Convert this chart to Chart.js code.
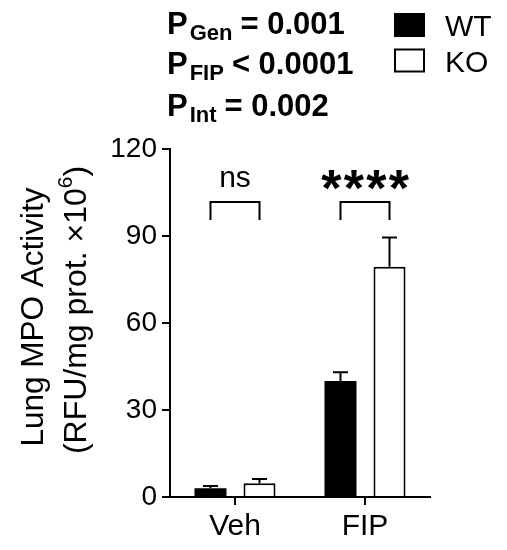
<!DOCTYPE html>
<html lang="en">
<head>
<meta charset="UTF-8">
<title>Lung MPO Activity</title>
<style>
  html, body { margin: 0; padding: 0; background: #fff; }
  #wrap { width: 507px; height: 550px; }
</style>
</head>
<body>
<div id="wrap"><canvas id="myChart" width="507" height="550"></canvas></div>

<script src="https://cdn.jsdelivr.net/npm/chart.js"></script>
<script>
// data
const categories = ['Veh', 'FIP'];
const groupNames = ['WT', 'KO'];
const wtValues = [3.0, 40.0];
const wtErrors = [0.8, 3.0];
const koValues = [4.7, 79.4];
const koErrors = [1.5, 10.1];
const yTicks = [0, 30, 60, 90, 120];
const sigLabels = ['ns', '****'];
const pStats = [
  ['Gen', '= 0.001'],
  ['FIP', '< 0.0001'],
  ['Int', '= 0.002']
];

const FONT = "'Liberation Sans', Arial, Helvetica, sans-serif";
const errors = [wtErrors, koErrors];

// error bars (upward only, with caps)
const errorBars = {
  id: 'errorBars',
  afterDatasetsDraw(chart) {
    const ctx = chart.ctx;
    const y = chart.scales.y;
    ctx.save();
    ctx.strokeStyle = '#000';
    ctx.lineWidth = 2;
    chart.data.datasets.forEach((ds, di) => {
      const meta = chart.getDatasetMeta(di);
      meta.data.forEach((bar, i) => {
        const top = y.getPixelForValue(ds.data[i] + errors[di][i]);
        const base = y.getPixelForValue(ds.data[i]);
        ctx.beginPath();
        ctx.moveTo(bar.x, base);
        ctx.lineTo(bar.x, top);
        ctx.moveTo(bar.x - 7.5, top);
        ctx.lineTo(bar.x + 7.5, top);
        ctx.stroke();
      });
    });
    ctx.restore();
  }
};

// brackets, significance labels, p-values, legend, y title
const annotations = {
  id: 'annotations',
  afterDraw(chart) {
    const ctx = chart.ctx;
    const y = chart.scales.y;
    const m0 = chart.getDatasetMeta(0);
    const m1 = chart.getDatasetMeta(1);
    ctx.save();
    ctx.fillStyle = '#000';
    ctx.strokeStyle = '#000';
    ctx.lineWidth = 2;

    categories.forEach((c, i) => {
      const x1 = m0.data[i].x, x2 = m1.data[i].x;
      const yTop = y.getPixelForValue(101.7);
      const yBot = y.getPixelForValue(95.5);
      ctx.beginPath();
      ctx.moveTo(x1, yBot);
      ctx.lineTo(x1, yTop);
      ctx.lineTo(x2, yTop);
      ctx.lineTo(x2, yBot);
      ctx.stroke();

      const cx = (x1 + x2) / 2;
      const lab = sigLabels[i];
      if (lab === 'ns') {
        ctx.font = '30px ' + FONT;
        ctx.textAlign = 'center';
        ctx.textBaseline = 'alphabetic';
        ctx.fillText(lab, cx, 187);
      } else {
        ctx.font = 'bold 52px ' + FONT;
        ctx.textAlign = 'center';
        ctx.textBaseline = 'alphabetic';
        const n = lab.length, step = 22.5;
        for (let k = 0; k < n; k++) {
          ctx.fillText('*', cx + (k - (n - 1) / 2) * step, 206);
        }
      }
    });

    // p-values
    ctx.textAlign = 'left';
    ctx.textBaseline = 'alphabetic';
    const baselines = [34, 74, 116];
    pStats.forEach((p, i) => {
      const base = baselines[i];
      let x = 167;
      ctx.font = 'bold 31px ' + FONT;
      ctx.fillText('P', x, base);
      x += ctx.measureText('P').width + 2;
      ctx.font = 'bold 22px ' + FONT;
      ctx.fillText(p[0], x, base + 6);
      x += ctx.measureText(p[0]).width + 8;
      ctx.font = 'bold 31px ' + FONT;
      ctx.fillText(p[1], x, base);
    });

    // legend
    chart.data.datasets.forEach((ds, i) => {
      const top = 13 + i * 35.5;
      ctx.fillStyle = ds.backgroundColor;
      ctx.fillRect(394, top, 31, 24);
      ctx.strokeStyle = '#000';
      ctx.lineWidth = 2;
      ctx.strokeRect(395, top + 1, 29, 22);
      ctx.fillStyle = '#000';
      ctx.font = '30px ' + FONT;
      ctx.fillText(ds.label, 445, top + 23);
    });

    // y axis title (two lines, superscript)
    ctx.save();
    ctx.translate(43, 317);
    ctx.rotate(-Math.PI / 2);
    ctx.font = '31.5px ' + FONT;
    ctx.textAlign = 'center';
    ctx.fillText('Lung MPO Activity', 0, 0);
    ctx.restore();

    ctx.save();
    ctx.translate(86, 310);
    ctx.rotate(-Math.PI / 2);
    ctx.textAlign = 'left';
    const a = '(RFU/mg prot. \u00d710', s = '6', b = ')';
    ctx.font = '32px ' + FONT;
    const wa = ctx.measureText(a).width, wb = ctx.measureText(b).width;
    ctx.font = '21px ' + FONT;
    const ws = ctx.measureText(s).width;
    let x = -(wa + ws + wb) / 2;
    ctx.font = '32px ' + FONT;
    ctx.fillText(a, x, 0);
    x += wa;
    ctx.font = '21px ' + FONT;
    ctx.fillText(s, x, -14);
    x += ws;
    ctx.font = '32px ' + FONT;
    ctx.fillText(b, x, 0);
    ctx.restore();

    ctx.restore();
  }
};

const ctx = document.getElementById('myChart');

new Chart(ctx, {
  type: 'bar',
  data: {
    labels: categories,
    datasets: [{
      label: groupNames[0],
      data: wtValues,
      backgroundColor: '#000000',
      borderColor: '#000000',
      borderWidth: 0,
      categoryPercentage: 0.754,
      barPercentage: 0.653
    }, {
      label: groupNames[1],
      data: koValues,
      backgroundColor: '#ffffff',
      borderColor: '#000000',
      borderWidth: 2,
      categoryPercentage: 0.754,
      barPercentage: 0.653
    }]
  },
  options: {
    responsive: false,
    animation: false,
    layout: { padding: { left: 0, right: 77, top: 149, bottom: 0 } },
    plugins: {
      legend: { display: false },
      tooltip: { enabled: false },
      title: { display: false }
    },
    scales: {
      x: {
        offset: true,
        grid: {
          display: true,
          offset: false,
          drawOnChartArea: false,
          drawTicks: true,
          tickLength: 8,
          color: '#000',
          lineWidth: 2
        },
        border: { display: true, color: '#000', width: 2 },
        ticks: {
          color: '#000',
          font: { family: FONT, size: 30 },
          padding: 4
        },
        afterFit(scale) { scale.height = 53; }
      },
      y: {
        min: 0,
        max: 120,
        afterBuildTicks(scale) {
          scale.ticks = yTicks.map(v => ({ value: v }));
        },
        grid: {
          display: true,
          drawOnChartArea: false,
          drawTicks: true,
          tickLength: 8,
          color: '#000',
          lineWidth: 2
        },
        border: { display: true, color: '#000', width: 2 },
        ticks: {
          color: '#000',
          font: { family: FONT, size: 28 },
          padding: 5
        },
        afterFit(scale) { scale.width = 170; }
      }
    }
  },
  plugins: [errorBars, annotations]
});
</script>
</body>
</html>
